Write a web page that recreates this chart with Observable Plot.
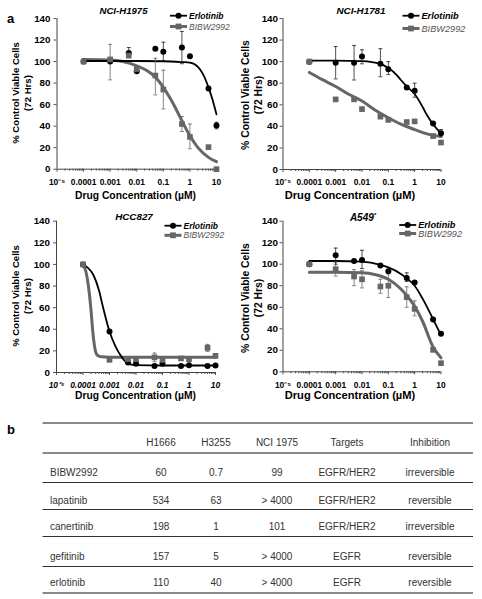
<!DOCTYPE html>
<html><head><meta charset="utf-8">
<script src="https://cdn.jsdelivr.net/npm/d3@7"></script>
<script src="https://cdn.jsdelivr.net/npm/@observablehq/plot@0.6"></script>
<style>
body{margin:0;background:#fff;}
#fig{position:relative;width:482px;height:599px;overflow:hidden;background:#fff;}
.panel{position:absolute;width:241px;height:200px;}
#overlay{position:absolute;left:0;top:0;pointer-events:none;}
</style></head>
<body><div id="fig"></div>
<script>
// ---------- shared data ----------
const conc = [0.0001, 0.001, 0.005, 0.01, 0.05, 0.1, 0.5, 1, 5, 10];
const xTickValues = [1e-5, 1e-4, 1e-3, 1e-2, 1e-1, 1, 10];
const xTickLabels = ["10\u207B\u2075", "0.0001", "0.001", "0.01", "0.1", "1", "10"];
const yTickValues = [0, 20, 40, 60, 80, 100, 120, 140];
const seriesNames = ["Erlotinib", "BIBW2992"];
const panelTitles = ["NCI-H1975", "NCI-H1781", "HCC827", "A549"];
const xLabel = "Drug Concentration (\u00B5M)";
const yLabel1 = "% Control Viable Cells";
const yLabel2 = "(72 Hrs)";

// ---------- NCI-H1975 ----------
const h1975Erl  = [100, 100, 108, 91, 112, 109, 113, 105, 75, 40.5];
const h1975Bibw = [100, 102, 105.5, 93, 87, 74, 42, 30, 20.5, 0];
const h1975ErlErr  = [[0.005, 104, 113], [0.1, 101, 118], [0.5, 98, 128], [10, 37.5, 43.5]];
const h1975BibwErr = [[0.001, 83, 116], [0.05, 69, 103], [0.1, 56, 92], [0.5, 35, 49], [1, 19, 42]];
const h1975ErlFitX  = [0.0001, 0.001, 0.01, 0.1, 0.5, 1, 2, 3, 5, 7, 10];
const h1975ErlFitY  = [100.5, 100.5, 100.5, 100.3, 99.5, 99, 95, 89, 76, 65, 51];
const h1975BibwFitX = [0.0001, 0.001, 0.003, 0.01, 0.03, 0.05, 0.1, 0.2, 0.5, 1, 2, 5, 10];
const h1975BibwFitY = [102, 101.5, 100, 96, 90, 85.5, 76, 64, 45, 31, 20, 11, 7];

// ---------- NCI-H1781 ----------
const h1781Erl  = [100, 99, 99, 104.7, 98, 93, 76, 73, 42.7, 33.7];
const h1781Bibw = [100, 65, 65, 56, 49, 46, 44, 44.6, 31, 25];
const h1781ErlErr  = [[0.001, 84, 114], [0.005, 83, 115], [0.01, 98, 111], [0.05, 86, 112], [0.1, 88, 100], [1, 67, 80], [10, 31, 37]];
const h1781BibwErr = [];
const h1781ErlFitX  = [0.0001, 0.001, 0.01, 0.05, 0.1, 0.2, 0.3, 0.5, 1, 2, 3, 5, 10];
const h1781ErlFitY  = [101, 101, 100.5, 98, 94, 88, 83, 77, 70, 58, 50, 42, 33.5];
const h1781BibwFitX = [0.0001, 0.0003, 0.001, 0.003, 0.01, 0.03, 0.1, 0.3, 1, 3, 10];
const h1781BibwFitY = [90, 83.5, 77, 70, 63.5, 55.5, 48, 42, 37, 33, 30.5];

// ---------- HCC827 ----------
const hcc827Erl  = [100, 38, 9.3, 8, 6, 8, 6, 6.8, 6, 6.5];
const hcc827Bibw = [100, 11.7, 12.3, 12.3, 14, 11.7, 13, 12.3, 22.8, 15.4];
const hcc827ErlErr  = [];
const hcc827BibwErr = [[0.05, 10, 18], [0.1, 9.5, 14.5], [5, 19.5, 26]];
const hcc827ErlFitX  = [0.0001, 0.00015, 0.00025, 0.0004, 0.00055, 0.001, 0.0017, 0.0026, 0.004, 0.006, 0.01, 0.1, 1, 10];
const hcc827ErlFitY  = [100, 97, 90, 76, 62, 38, 24, 16, 10, 7.5, 6.8, 6.5, 6.5, 6.5];
const hcc827BibwFitX = [0.0001, 0.00013, 0.00016, 0.0002, 0.00023, 0.00027, 0.0003, 0.00035, 0.0005, 0.001, 0.01, 0.1, 1, 10];
const hcc827BibwFitY = [100, 93, 80, 58, 40, 25, 19, 16, 14.5, 14.2, 14.2, 14.2, 14.2, 14.2];

// ---------- A549 ----------
const a549Erl  = [100, 108.4, 103, 104, 98.8, 93.5, 87.3, 83, 48.6, 35.3];
const a549Bibw = [100, 95.4, 88.6, 86, 79.3, 80, 69.4, 58.5, 20.4, 8];
const a549ErlErr  = [[0.001, 100, 115], [0.01, 96, 113], [0.5, 84, 92]];
const a549BibwErr = [[0.001, 89, 102], [0.005, 80, 95], [0.01, 78, 94], [0.05, 73, 86], [0.1, 69, 91], [0.5, 60, 79], [1, 52, 66]];
const a549ErlFitX  = [0.0001, 0.001, 0.01, 0.05, 0.1, 0.3, 0.5, 1, 2, 5, 10];
const a549ErlFitY  = [103, 103, 102.5, 99.5, 97, 91, 87, 80, 68, 49, 34];
const a549BibwFitX = [0.0001, 0.001, 0.01, 0.03, 0.1, 0.3, 0.5, 1, 2, 5, 10];
const a549BibwFitY = [92.5, 92.5, 92, 90.5, 86, 77, 71, 61, 47, 23, 13];

// ---------- table (b) ----------
const tableHeader = ["", "H1666", "H3255", "NCI 1975", "Targets", "Inhibition"];
const drugs      = ["BIBW2992", "lapatinib", "canertinib", "gefitinib", "erlotinib"];
const h1666      = ["60", "534", "198", "157", "110"];
const h3255      = ["0.7", "63", "1", "5", "40"];
const nci1975    = ["99", "> 4000", "101", "> 4000", "> 4000"];
const targets    = ["EGFR/HER2", "EGFR/HER2", "EGFR/HER2", "EGFR", "EGFR"];
const inhibition = ["irreversible", "reversible", "irreversible", "reversible", "reversible"];

// ---------- styling / layout ----------
const FONT = "'Liberation Sans', Arial, Helvetica, sans-serif";
const GRAY = "#666";
const minorTicks = [];
for (let e = -5; e <= 0; e++) for (let k = 2; k <= 9; k++) minorTicks.push(k * Math.pow(10, e));

const panels = [
  {title: panelTitles[0], erl: h1975Erl, bibw: h1975Bibw, erlErr: h1975ErlErr, bibwErr: h1975BibwErr,
   erlFitX: h1975ErlFitX, erlFitY: h1975ErlFitY, bibwFitX: h1975BibwFitX, bibwFitY: h1975BibwFitY,
   L: {left: 0, top: 0, ml: 56.5, mr: 25, mt: 18, mb: 31.3, xfs: 8.4, yfs: 9.8, ypad: 3.5, xpad: 7, italic: false}},
  {title: panelTitles[1], erl: h1781Erl, bibw: h1781Bibw, erlErr: h1781ErlErr, bibwErr: h1781BibwErr,
   erlFitX: h1781ErlFitX, erlFitY: h1781ErlFitY, bibwFitX: h1781BibwFitX, bibwFitY: h1781BibwFitY,
   L: {left: 241, top: 0, ml: 41.5, mr: 41.5, mt: 18, mb: 31, xfs: 8.4, yfs: 9.8, ypad: 2, xpad: 7, italic: false}},
  {title: panelTitles[2], erl: hcc827Erl, bibw: hcc827Bibw, erlErr: hcc827ErlErr, bibwErr: hcc827BibwErr,
   erlFitX: hcc827ErlFitX, erlFitY: hcc827ErlFitY, bibwFitX: hcc827BibwFitX, bibwFitY: hcc827BibwFitY,
   L: {left: 0, top: 200, ml: 56, mr: 26, mt: 20.7, mb: 28, xfs: 8.4, yfs: 9.8, ypad: 3.5, xpad: 7, italic: true}},
  {title: panelTitles[3], erl: a549Erl, bibw: a549Bibw, erlErr: a549ErlErr, bibwErr: a549BibwErr,
   erlFitX: a549ErlFitX, erlFitY: a549ErlFitY, bibwFitX: a549BibwFitX, bibwFitY: a549BibwFitY,
   L: {left: 241, top: 200, ml: 41.5, mr: 41.5, mt: 20.7, mb: 28.7, xfs: 8.4, yfs: 9.8, ypad: 2, xpad: 7, italic: false}}
];

const pts = (xs, ys) => xs.map((x, i) => ({x, y: ys[i]}));
const errs = (arr) => arr.map(([x, lo, hi]) => ({x, lo, hi}));
const cap = {draw(ctx, size) { const w = Math.sqrt(size / Math.PI); ctx.moveTo(-w, 0); ctx.lineTo(w, 0); }};
const fmt = new Map(xTickValues.map((v, i) => [v, xTickLabels[i]]));

function errMarks(data, color) {
  return [
    Plot.ruleX(data, {x: "x", y1: "lo", y2: "hi", stroke: color, strokeWidth: 0.8}),
    Plot.dot(data, {x: "x", y: "lo", symbol: cap, r: 2, stroke: color, strokeWidth: 0.8, fill: "none"}),
    Plot.dot(data, {x: "x", y: "hi", symbol: cap, r: 2, stroke: color, strokeWidth: 0.8, fill: "none"})
  ];
}

function makePanel(p) {
  const L = p.L;
  return Plot.plot({
    width: 241, height: 200,
    marginLeft: L.ml, marginRight: L.mr, marginTop: L.mt, marginBottom: L.mb,
    style: {fontFamily: FONT, fontWeight: "bold", background: "transparent", overflow: "visible", color: "#000"},
    x: {type: "log", domain: [1e-5, 10]},
    y: {domain: [0, 140]},
    marks: [
      Plot.axisX({ticks: minorTicks, tickSize: 2, text: null, label: null, stroke: "#555"}),
      Plot.axisX({ticks: xTickValues, tickSize: 3, tickPadding: L.xpad, tickFormat: d => fmt.get(d),
                  fontSize: L.xfs, fontStyle: L.italic ? "italic" : "normal", label: null, stroke: "#555"}),
      Plot.axisY({ticks: yTickValues, tickSize: 3, tickPadding: L.ypad, fontSize: L.yfs, label: null, stroke: "#555"}),
      Plot.ruleY([0], {stroke: "#444"}),
      Plot.ruleX([1e-5], {stroke: "#444"}),
      Plot.line(pts(p.bibwFitX, p.bibwFitY), {x: "x", y: "y", stroke: GRAY, strokeWidth: 3, curve: "monotone-x"}),
      Plot.line(pts(p.erlFitX, p.erlFitY), {x: "x", y: "y", stroke: "#000", strokeWidth: 1.8, curve: "monotone-x"}),
      ...errMarks(errs(p.bibwErr), GRAY),
      ...errMarks(errs(p.erlErr), "#222"),
      Plot.dot(pts(conc, p.erl), {x: "x", y: "y", r: 3, fill: "#000"}),
      Plot.dot(pts(conc, p.bibw), {x: "x", y: "y", symbol: "square", r: 3.2, fill: GRAY})
    ]
  });
}

const fig = document.getElementById("fig");
panels.forEach(p => {
  const div = document.createElement("div");
  div.className = "panel";
  div.style.left = p.L.left + "px";
  div.style.top = p.L.top + "px";
  div.appendChild(makePanel(p));
  fig.appendChild(div);
});

// ---------- overlay: titles, labels, legends, table ----------
const svg = d3.select(fig).append("svg").attr("id", "overlay")
  .attr("width", 482).attr("height", 599)
  .style("font-family", FONT);

function txt(x, y, s, o = {}) {
  const t = svg.append("text").attr("x", x).attr("y", y).text(s)
    .attr("font-size", o.size || 10).attr("font-weight", o.weight || "bold")
    .attr("font-style", o.style || "normal").attr("fill", o.fill || "#000")
    .attr("text-anchor", o.anchor || "middle");
  if (o.rotate) t.attr("transform", `rotate(-90 ${x} ${y})`);
  return t;
}

txt(7, 23.3, "a", {size: 13, anchor: "start"});
txt(7, 433.5, "b", {size: 13, anchor: "start"});

const textLayout = [
  {tx: 123.5, ty: 14.3, y1: 18.5, y2: 31, yy: 93, xx: 135.5, xy: 199, lx: 178.5, l1: 15.7, l2: 26.5, fs: 1, ts: 9.6},
  {tx: 361, ty: 14.3, y1: 249, y2: 261.5, yy: 95, xx: 350, xy: 199, lx: 411, l1: 15.7, l2: 28.5, fs: 1.08, ts: 9.8},
  {tx: 134, ty: 220, y1: 18.5, y2: 31, yy: 296, xx: 135.5, xy: 399, lx: 173, l1: 225.7, l2: 235.3, fs: 1, ts: 9.8},
  {tx: 363, ty: 220.5, y1: 249, y2: 261.5, yy: 298, xx: 350, xy: 399, lx: 407.7, l1: 225, l2: 233.5, fs: 1.08, ts: 10}
];

textLayout.forEach((t, i) => {
  const title = txt(t.tx, t.ty, panelTitles[i], {size: t.ts, style: "italic"});
  if (i === 3) title.append("tspan").attr("dy", -4).attr("font-size", 6).text("*");
  txt(t.y1, t.yy, yLabel1, {size: 9.6 * t.fs, rotate: true});
  txt(t.y2, t.yy, yLabel2, {size: 9.6 * t.fs, rotate: true});
  txt(t.xx, t.xy, xLabel, {size: 10.3 * t.fs});
  svg.append("line").attr("x1", t.lx - 8.5).attr("x2", t.lx + 8.5).attr("y1", t.l1).attr("y2", t.l1)
    .attr("stroke", "#000").attr("stroke-width", 1.8);
  svg.append("circle").attr("cx", t.lx).attr("cy", t.l1).attr("r", 3).attr("fill", "#000");
  txt(t.lx + 10.5, t.l1 + 3, seriesNames[0], {size: 8.5 * t.fs, style: "italic", anchor: "start"});
  svg.append("line").attr("x1", t.lx - 8.5).attr("x2", t.lx + 8.5).attr("y1", t.l2).attr("y2", t.l2)
    .attr("stroke", GRAY).attr("stroke-width", 3);
  svg.append("rect").attr("x", t.lx - 2.9).attr("y", t.l2 - 2.9).attr("width", 5.8).attr("height", 5.8).attr("fill", GRAY);
  txt(t.lx + 10.5, t.l2 + 3, seriesNames[1], {size: 8.5 * t.fs, style: "italic", weight: "normal", fill: "#555", anchor: "start"});
});

// table
const tX0 = 42.5, tX1 = 473;
const colX = [50, 161, 216, 277, 347, 430];
const headerY = 445.5;
const rowY = [476.3, 503.6, 529.6, 559.6, 586.3];
const ruleThick = [423, 453, 593];
const ruleThin = [482, 509, 536, 566];
ruleThick.forEach(y => svg.append("line").attr("x1", tX0).attr("x2", tX1).attr("y1", y).attr("y2", y)
  .attr("stroke", "#8a8a8a").attr("stroke-width", 2));
ruleThin.forEach(y => svg.append("line").attr("x1", tX0).attr("x2", tX1).attr("y1", y + 0.5).attr("y2", y + 0.5)
  .attr("stroke", "#333").attr("stroke-width", 1));
tableHeader.forEach((h, j) => { if (h) txt(colX[j], headerY, h, {size: 10, weight: "normal", fill: "#333"}); });
const cols = [drugs, h1666, h3255, nci1975, targets, inhibition];
cols.forEach((col, j) => col.forEach((v, i) =>
  txt(colX[j], rowY[i], v, {size: 10, weight: "normal", fill: "#333", anchor: j === 0 ? "start" : "middle"})));
</script>
</body></html>
